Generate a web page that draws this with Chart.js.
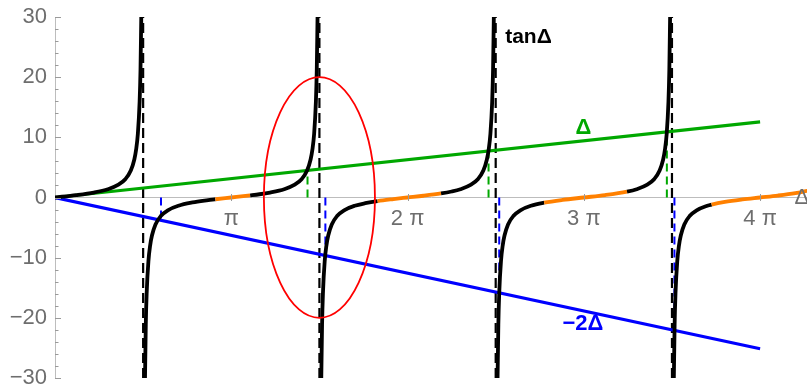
<!DOCTYPE html>
<html>
<head>
<meta charset="utf-8">
<script src="https://cdn.jsdelivr.net/npm/chart.js@4/dist/chart.umd.min.js"></script>
<style>
  html, body { margin: 0; padding: 0; background: #fff; }
  #wrap { width: 807px; height: 385px; }
</style>
</head>
<body>
<div id="wrap"><canvas id="c" width="807" height="385"></canvas></div>
<script>
// ---- data (x in units of π) ----
const tanBranch0 = [[0,0],[0.12,0.396],[0.22,0.827],[0.30,1.376],[0.36,2.125],[0.40,3.08],[0.43,4.47],[0.45,6.31],[0.46,7.92],[0.47,10.58],[0.48,15.89],[0.485,21.2],[0.4894,30]];
const tanBranch1 = [[0.5106,-30],[0.515,-21.2],[0.52,-15.89],[0.53,-10.58],[0.54,-7.92],[0.55,-6.31],[0.57,-4.47],[0.60,-3.08],[0.64,-2.125],[0.70,-1.376],[0.78,-0.827],[0.86,-0.47],[0.91,-0.29],[1.0,0],[1.107,0.35],[1.16,0.54],[1.22,0.827],[1.30,1.376],[1.36,2.125],[1.40,3.08],[1.43,4.47],[1.45,6.31],[1.46,7.92],[1.47,10.58],[1.48,15.89],[1.485,21.2],[1.4894,30]];
const tanBranch2 = [[1.5106,-30],[1.515,-21.2],[1.52,-15.89],[1.53,-10.58],[1.54,-7.92],[1.55,-6.31],[1.57,-4.47],[1.60,-3.08],[1.64,-2.125],[1.70,-1.376],[1.76,-0.95],[1.83,-0.59],[1.92,-0.26],[2.0,0],[2.09,0.29],[2.19,0.68],[2.25,1.0],[2.30,1.376],[2.36,2.125],[2.40,3.08],[2.43,4.47],[2.45,6.31],[2.46,7.92],[2.47,10.58],[2.48,15.89],[2.485,21.2],[2.4894,30]];
const tanBranch3 = [[2.5106,-30],[2.515,-21.2],[2.52,-15.89],[2.53,-10.58],[2.54,-7.92],[2.55,-6.31],[2.57,-4.47],[2.60,-3.08],[2.64,-2.125],[2.70,-1.376],[2.775,-0.86],[2.88,-0.396],[3.0,0],[3.12,0.396],[3.245,0.97],[3.30,1.376],[3.36,2.125],[3.40,3.08],[3.43,4.47],[3.45,6.31],[3.46,7.92],[3.47,10.58],[3.48,15.89],[3.485,21.2],[3.4894,30]];
const tanBranch4 = [[3.5106,-30],[3.515,-21.2],[3.52,-15.89],[3.53,-10.58],[3.54,-7.92],[3.55,-6.31],[3.57,-4.47],[3.60,-3.08],[3.64,-2.125],[3.70,-1.376],[3.725,-1.17],[3.80,-0.73],[3.90,-0.325],[4.0,0],[4.10,0.325],[4.20,0.73],[4.27,1.13]];
const orangeRanges = [[0.91,1.107],[1.83,2.19],[2.775,3.245],[3.725,4.3]];
const deltaLine = [[0,0],[4,12.57]];
const minus2DeltaLine = [[0,0],[4,-25.13]];
const asymptotesX = [0.5,1.5,2.5,3.5];
const greenRootsX = [1.4325,2.4595,3.471];
const greenRootsY = [4.50,7.73,10.90];
const blueRootsX = [0.6013,1.5338,2.520,3.514];
const blueRootsY = [-3.78,-9.64,-15.84,-22.08];
const ellipseSpec = [1.5, 0, 0.315, 20]; // centre x, centre y, radius x, radius y
const xTickValues = [1,2,3,4];
const xTickLabels = ['π','2 π','3 π','4 π'];
const yTickValues = [-30,-20,-10,0,10,20,30];
const textLabels = [
  {text:'tanΔ', x:2.686, y:26.6},
  {text:'Δ', x:2.998, y:11.5},
  {text:'−2Δ', x:2.995, y:-21.0},
  {text:'Δ', x:4.195, y:0}
];

// ---- styles ----
const BLACK = '#000000', ORANGE = '#ff8000', GREEN = '#00a800', BLUE = '#0000ff';
const TICK_FONT = '"Liberation Sans", Arial, sans-serif';
const toPts = arr => arr.map(p => ({x:p[0], y:p[1]}));
const isOrange = (a,b) => orangeRanges.some(r => a >= r[0]-1e-9 && b <= r[1]+1e-9);

const datasets = [];
[tanBranch0,tanBranch1,tanBranch2,tanBranch3,tanBranch4].forEach(br => {
  datasets.push({
    data: toPts(br), borderColor: BLACK, borderWidth: 3.8, pointRadius: 0,
    cubicInterpolationMode: 'monotone', order: 1, borderCapStyle: 'butt',
    segment: { borderColor: c => isOrange(c.p0.parsed.x, c.p1.parsed.x) ? ORANGE : BLACK }
  });
});
datasets.push({ data: toPts(deltaLine), borderColor: GREEN, borderWidth: 3.2, pointRadius: 0, order: 2 });
datasets.push({ data: toPts(minus2DeltaLine), borderColor: BLUE, borderWidth: 3.2, pointRadius: 0, order: 2 });
asymptotesX.forEach(v => datasets.push({ data: [{x:v,y:-30},{x:v,y:30}], borderColor: BLACK, borderWidth: 2.2, borderDash: [10,5], pointRadius: 0, order: 3 }));
greenRootsX.forEach((v,i) => datasets.push({ data: [{x:v,y:0},{x:v,y:greenRootsY[i]}], borderColor: GREEN, borderWidth: 2, borderDash: [8,5], pointRadius: 0, order: 4 }));
blueRootsX.forEach((v,i) => datasets.push({ data: [{x:v,y:0},{x:v,y:blueRootsY[i]}], borderColor: BLUE, borderWidth: 2, borderDash: [8,5], pointRadius: 0, order: 4 }));

const labelStyles = [
  {color: BLACK, font: 'bold 21px "Liberation Sans", Arial, sans-serif', align:'center'},
  {color: GREEN, font: 'bold 22px "Liberation Sans", Arial, sans-serif', align:'center'},
  {color: BLUE,  font: 'bold 22px "Liberation Sans", Arial, sans-serif', align:'center'},
  {color: '#6e6e6e', font: '22px "Liberation Sans", Arial, sans-serif', align:'left'}
];

const overlay = {
  id: 'overlay',
  afterDatasetsDraw(chart) {
    const {ctx, scales:{x, y}} = chart;
    ctx.save();
    // ellipse
    const cx = x.getPixelForValue(ellipseSpec[0]);
    const cy = y.getPixelForValue(ellipseSpec[1]);
    const rx = x.getPixelForValue(ellipseSpec[0] + ellipseSpec[2]) - cx;
    const ry = cy - y.getPixelForValue(ellipseSpec[1] + ellipseSpec[3]);
    ctx.beginPath();
    ctx.ellipse(cx, cy, rx, ry, 0, 0, Math.PI * 2);
    ctx.strokeStyle = '#ff0000';
    ctx.lineWidth = 1.8;
    ctx.stroke();
    // text labels
    ctx.textBaseline = 'middle';
    textLabels.forEach((l, i) => {
      const s = labelStyles[i];
      ctx.fillStyle = s.color; ctx.font = s.font; ctx.textAlign = s.align;
      ctx.fillText(l.text, x.getPixelForValue(l.x), y.getPixelForValue(l.y));
    });
    // tick marks
    ctx.strokeStyle = '#9a9a9a';
    ctx.lineWidth = 1;
    const left = chart.chartArea.left;
    for (let v = -30; v <= 30; v += 2) {
      const py = Math.round(y.getPixelForValue(v)) + 0.5;
      const len = (v % 10 === 0) ? 6 : 3.5;
      ctx.beginPath(); ctx.moveTo(left, py); ctx.lineTo(left + len, py); ctx.stroke();
    }
    const y0 = y.getPixelForValue(0);
    xTickValues.forEach(v => {
      const px = Math.round(x.getPixelForValue(v)) + 0.5;
      ctx.beginPath(); ctx.moveTo(px, y0 - 3.5); ctx.lineTo(px, y0 + 3.5); ctx.stroke();
    });
    ctx.restore();
  }
};

new Chart(document.getElementById('c'), {
  type: 'line',
  data: { datasets },
  plugins: [overlay],
  options: {
    responsive: false,
    devicePixelRatio: 1,
    animation: false,
    events: [],
    layout: { padding: { top: 17, bottom: 7, left: 0, right: 0 } },
    plugins: { legend: { display: false }, tooltip: { enabled: false } },
    scales: {
      x: {
        type: 'linear', min: 0, max: 4.266,
        position: { y: 0 },
        grid: { display: true, drawOnChartArea: false, drawTicks: false },
        border: { display: true, color: '#bdbdbd', width: 1 },
        afterBuildTicks: s => { s.ticks = xTickValues.map(v => ({value: v})); },
        ticks: {
          padding: 8, color: '#6e6e6e', maxRotation: 0, autoSkip: false,
          font: { family: TICK_FONT, size: 22 },
          callback: (v) => xTickLabels[xTickValues.indexOf(v)]
        }
      },
      y: {
        type: 'linear', min: -30, max: 30, position: 'left',
        grid: { display: true, drawOnChartArea: false, drawTicks: false },
        border: { display: true, color: '#bdbdbd', width: 1 },
        afterBuildTicks: s => { s.ticks = yTickValues.map(v => ({value: v})); },
        afterFit: s => { s.width = 55; s.paddingTop = 0; s.paddingBottom = 0; },
        ticks: {
          padding: 8, color: '#6e6e6e',
          font: { family: TICK_FONT, size: 22 },
          callback: v => v < 0 ? '−' + Math.abs(v) : String(v)
        }
      }
    }
  }
});
</script>
</body>
</html>
